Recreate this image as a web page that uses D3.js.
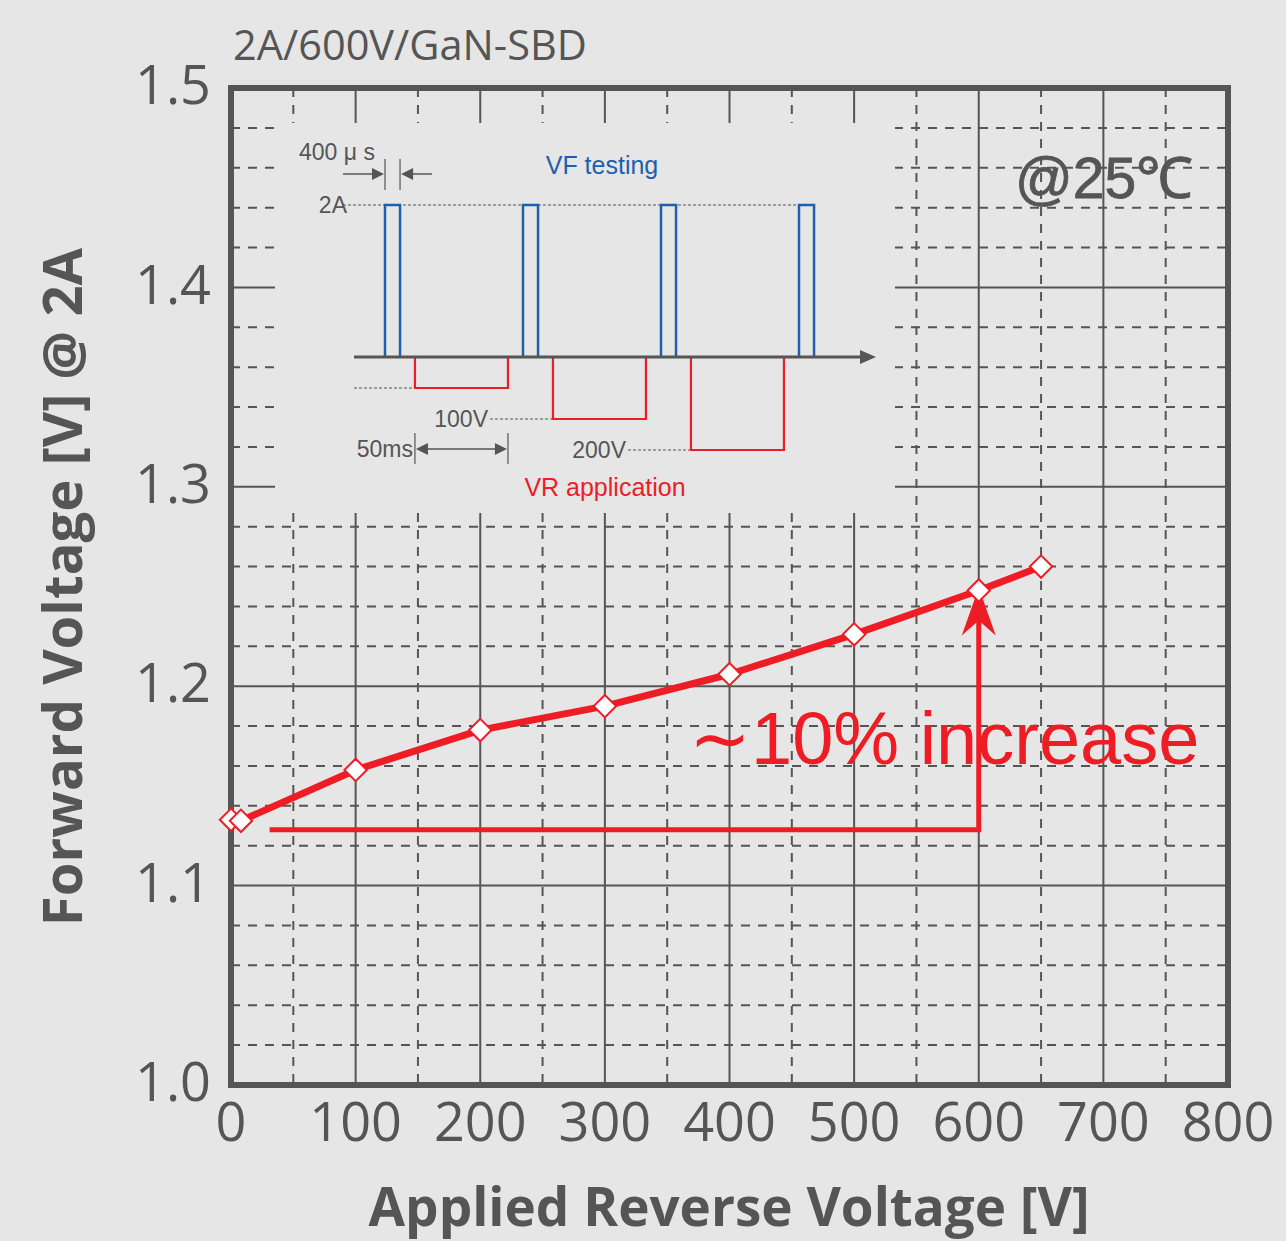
<!DOCTYPE html>
<html>
<head>
<meta charset="utf-8">
<script src="https://cdn.jsdelivr.net/npm/d3@7"></script>
<style>
  body { margin: 0; background: #e6e6e6; }
  svg { display: block; }
</style>
</head>
<body>
<svg id="chart" width="1286" height="1241"></svg>
<script>
const reverseV = [0, 8, 100, 200, 300, 400, 500, 600, 650];
const forwardV = [1.133, 1.1325, 1.158, 1.178, 1.190, 1.206, 1.226, 1.248, 1.260];

const xTicks = [0, 100, 200, 300, 400, 500, 600, 700, 800];
const yTicks = [1.0, 1.1, 1.2, 1.3, 1.4, 1.5];
const xMinor = [50, 150, 250, 350, 450, 550, 650, 750];
const yMinor = d3.range(1.02, 1.5, 0.02).filter(v => Math.abs(v * 10 - Math.round(v * 10)) > 0.01);

// annotation: ~10% increase bracket (V, VF)
const bracketPts = [[31, 1.128], [600, 1.128], [600, 1.2375]];

// inset schematic: pulse cycle units (one VF + VR cycle = 1)
const vfPulseStart = [0, 1, 2, 3];
const vfPulseWidth = 0.109;
const vrPulseStart = [0.217, 1.217, 2.217];
const vrPulseWidth = 0.674;
const vrLevels = [1, 2, 3];
const vrLabels = ["", "100V", "200V"];

const svg = d3.select("#chart");
const gray = "#555555";
const red = "#ee1c25";

const x = d3.scaleLinear().domain([0, 800]).range([231, 1228]);
const y = d3.scaleLinear().domain([1.0, 1.5]).range([1085, 88]);

// grid
const grid = svg.append("g");
grid.selectAll(".vmin").data(xMinor).join("line")
  .attr("x1", d => x(d)).attr("x2", d => x(d)).attr("y1", y(1.5)).attr("y2", y(1.0))
  .attr("stroke", gray).attr("stroke-width", 2).attr("stroke-dasharray", "9,8");
grid.selectAll(".hmin").data(yMinor).join("line")
  .attr("y1", d => y(d)).attr("y2", d => y(d)).attr("x1", x(0)).attr("x2", x(800))
  .attr("stroke", gray).attr("stroke-width", 2).attr("stroke-dasharray", "9,8");
grid.selectAll(".vmaj").data(xTicks.slice(1, -1)).join("line")
  .attr("x1", d => x(d)).attr("x2", d => x(d)).attr("y1", y(1.5)).attr("y2", y(1.0))
  .attr("stroke", gray).attr("stroke-width", 2);
grid.selectAll(".hmaj").data(yTicks.slice(1, -1)).join("line")
  .attr("y1", d => y(d)).attr("y2", d => y(d)).attr("x1", x(0)).attr("x2", x(800))
  .attr("stroke", gray).attr("stroke-width", 2);

// inset background covers the grid
svg.append("rect").attr("x", 275).attr("y", 123).attr("width", 620).attr("height", 390)
  .attr("fill", "#e6e6e6");

// frame
svg.append("rect").attr("x", x(0)).attr("y", y(1.5)).attr("width", x(800) - x(0)).attr("height", y(1.0) - y(1.5))
  .attr("fill", "none").attr("stroke", gray).attr("stroke-width", 6);

// tick labels
svg.append("g").selectAll("text").data(yTicks).join("text")
  .attr("x", 211).attr("y", d => y(d)).attr("dy", "0.3em")
  .attr("text-anchor", "end").attr("font-family", "Open Sans").attr("font-size", 54)
  .attr("fill", gray).text(d => d.toFixed(1));
svg.append("g").selectAll("text").data(xTicks).join("text")
  .attr("x", d => x(d)).attr("y", 1141)
  .attr("text-anchor", "middle").attr("font-family", "Open Sans").attr("font-size", 54)
  .attr("fill", gray).text(d => d);

// titles
svg.append("text").attr("x", 729).attr("y", 1226).attr("text-anchor", "middle")
  .attr("font-family", "Open Sans").attr("font-weight", "bold").attr("font-size", 53)
  .attr("fill", gray).text("Applied Reverse Voltage [V]");
svg.append("text").attr("transform", "translate(82,587) rotate(-90)").attr("text-anchor", "middle")
  .attr("font-family", "Open Sans").attr("font-weight", "bold").attr("font-size", 54.5)
  .attr("fill", gray).text("Forward Voltage [V] @ 2A");
svg.append("text").attr("x", 233).attr("y", 60)
  .attr("font-family", "Open Sans").attr("font-size", 41.5)
  .attr("fill", gray).text("2A/600V/GaN-SBD");
svg.append("text").attr("x", 1015).attr("y", 198)
  .attr("font-family", "Liberation Sans").attr("font-size", 57)
  .attr("fill", gray).attr("stroke", gray).attr("stroke-width", 0.8).text("@25℃");

// inset schematic
const ix = d3.scaleLinear().domain([0, 1]).range([385, 523]);
const iyA = d3.scaleLinear().domain([0, 2]).range([357, 205]);
const iyV = d3.scaleLinear().domain([0, 1]).range([357, 388]);
const blue = "#1f5fad";
const inset = svg.append("g").attr("font-family", "Liberation Sans").attr("fill", gray);

// dotted reference lines
inset.append("line").attr("x1", 343).attr("x2", ix(3) + ix(vfPulseWidth) - ix(0)).attr("y1", iyA(2)).attr("y2", iyA(2))
  .attr("stroke", gray).attr("stroke-width", 1.2).attr("stroke-dasharray", "3,2");
inset.selectAll(".vrdot").data(vrLevels).join("line")
  .attr("x1", (d, i) => i === 0 ? 354 : i === 1 ? 490 : 628)
  .attr("x2", (d, i) => ix(vrPulseStart[i]))
  .attr("y1", d => iyV(d)).attr("y2", d => iyV(d))
  .attr("stroke", gray).attr("stroke-width", 1.2).attr("stroke-dasharray", "3,2");

// VF pulses
inset.selectAll(".vf").data(vfPulseStart).join("path")
  .attr("d", d => `M${ix(d)},${iyA(0)}V${iyA(2)}H${ix(d + vfPulseWidth)}V${iyA(0)}`)
  .attr("fill", "none").attr("stroke", blue).attr("stroke-width", 2.5);
// VR pulses
inset.selectAll(".vr").data(vrPulseStart).join("path")
  .attr("d", (d, i) => `M${ix(d)},${iyV(0)}V${iyV(vrLevels[i])}H${ix(d + vrPulseWidth)}V${iyV(0)}`)
  .attr("fill", "none").attr("stroke", "#ee1c25").attr("stroke-width", 2.2);

// time axis with arrow
inset.append("line").attr("x1", 354).attr("x2", 866).attr("y1", iyA(0)).attr("y2", iyA(0))
  .attr("stroke", gray).attr("stroke-width", 3);
inset.append("path").attr("d", `M876,${iyA(0)}l-16,-7v14z`).attr("fill", gray);

// labels
inset.append("text").attr("x", 347).attr("y", iyA(2)).attr("dy", "0.36em").attr("text-anchor", "end")
  .attr("font-size", 23).text("2A");
inset.selectAll(".vrlab").data(vrLevels).join("text")
  .attr("x", (d, i) => i === 1 ? 488 : 626).attr("y", d => iyV(d)).attr("dy", "0.36em")
  .attr("text-anchor", "end").attr("font-size", 23).text((d, i) => vrLabels[i]);
inset.append("text").attr("x", 602).attr("y", 174).attr("text-anchor", "middle")
  .attr("font-size", 25).attr("fill", blue).text("VF testing");
inset.append("text").attr("x", 605).attr("y", 496).attr("text-anchor", "middle")
  .attr("font-size", 25).attr("fill", "#ee1c25").text("VR application");
inset.append("text").attr("x", 299).attr("y", 160).attr("font-size", 23).text("400 μ s");

// 400us arrows
inset.append("line").attr("x1", ix(0)).attr("x2", ix(0)).attr("y1", 159).attr("y2", 190).attr("stroke", gray).attr("stroke-width", 1.2);
inset.append("line").attr("x1", ix(vfPulseWidth)).attr("x2", ix(vfPulseWidth)).attr("y1", 159).attr("y2", 190).attr("stroke", gray).attr("stroke-width", 1.2);
inset.append("line").attr("x1", 343).attr("x2", 375).attr("y1", 174).attr("y2", 174).attr("stroke", gray).attr("stroke-width", 1.5);
inset.append("path").attr("d", `M${ix(0) - 1},174l-12,-6v12z`).attr("fill", gray);
inset.append("line").attr("x1", 410).attr("x2", 432).attr("y1", 174).attr("y2", 174).attr("stroke", gray).attr("stroke-width", 1.5);
inset.append("path").attr("d", `M${ix(vfPulseWidth) + 1},174l12,-6v12z`).attr("fill", gray);

// 50ms arrows
const a0 = ix(vrPulseStart[0]), a1 = ix(vrPulseStart[0] + vrPulseWidth);
inset.append("line").attr("x1", a0).attr("x2", a0).attr("y1", 433).attr("y2", 464).attr("stroke", gray).attr("stroke-width", 1.2);
inset.append("line").attr("x1", a1).attr("x2", a1).attr("y1", 433).attr("y2", 464).attr("stroke", gray).attr("stroke-width", 1.2);
inset.append("line").attr("x1", a0 + 8).attr("x2", a1 - 8).attr("y1", 449).attr("y2", 449).attr("stroke", gray).attr("stroke-width", 1.5);
inset.append("path").attr("d", `M${a0 + 1},449l12,-6v12z`).attr("fill", gray);
inset.append("path").attr("d", `M${a1 - 1},449l-12,-6v12z`).attr("fill", gray);
inset.append("text").attr("x", a0 - 2).attr("y", 449).attr("dy", "0.36em").attr("text-anchor", "end")
  .attr("font-size", 23).text("50ms");

// annotation bracket + arrow
const bracket = d3.line().x(d => x(d[0])).y(d => y(d[1]));
svg.append("path").attr("d", bracket(bracketPts)).attr("fill", "none")
  .attr("stroke", red).attr("stroke-width", 5);
const tipX = x(600), tipY = y(1.2495);
svg.append("path")
  .attr("d", `M${tipX},${tipY}L${tipX + 17},${tipY + 48}L${tipX},${tipY + 33}L${tipX - 17},${tipY + 48}Z`)
  .attr("fill", red);

svg.append("text").attr("x", 689).attr("y", 764)
  .attr("font-family", "Liberation Sans").attr("font-size", 74)
  .attr("fill", red).text("∼10% increase");

// data line + markers
const line = d3.line().x((d, i) => x(reverseV[i + 1])).y(d => y(d));
svg.append("path").attr("d", line(forwardV.slice(1))).attr("fill", "none")
  .attr("stroke", red).attr("stroke-width", 7).attr("stroke-linejoin", "round");

const diamond = d3.symbol().type(d3.symbolDiamond2).size(320);
svg.append("g").selectAll("path").data(forwardV).join("path")
  .attr("transform", (d, i) => `translate(${x(reverseV[i])},${y(d)})`)
  .attr("d", diamond)
  .attr("fill", "white").attr("stroke", red).attr("stroke-width", 2);
</script>
</body>
</html>
